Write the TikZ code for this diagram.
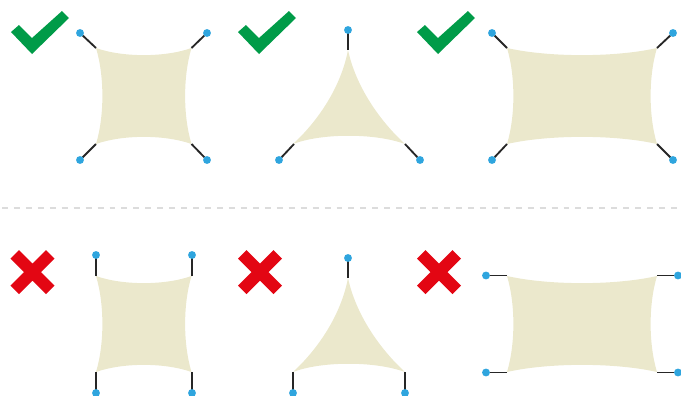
\documentclass[tikz,border=0pt]{standalone}
\usepackage{tikz}
\definecolor{sailcol}{HTML}{EBE8CC}
\definecolor{okcol}{HTML}{009B48}
\definecolor{badcol}{HTML}{E30613}
\definecolor{ringcol}{HTML}{2FA5DE}
\definecolor{rulecol}{HTML}{DCDCDC}
\tikzset{
  sail/.style={fill=sailcol, draw=none},
  stay/.style={draw=black!85, line width=1.05pt},
  ring/.style={circle, fill=ringcol, inner sep=0pt, minimum size=4.5pt},
}
\begin{document}
\begin{tikzpicture}[x=0.02cm, y=-0.02cm]
    \useasboundingbox (0,0) rectangle (681,396);
    % divider between good and bad rows
    \draw[rulecol, line width=0.7pt, dash pattern=on 3.4pt off 3.4pt] (2,208) -- (681,208);
    % check marks
    \foreach \dx in {0,227,406}
      \fill[okcol, shift={(\dx,0)}] (11,32) -- (19,25) -- (32,38) -- (62,11) -- (69,18) -- (32,54) -- cycle;
    % crosses
    \foreach \dx in {32.5,260,439}
      \fill[badcol, shift={(\dx,272)}] (-13.5,-22) -- (0,-8.5) -- (13.5,-22) -- (22,-13.5) -- (8.5,0)
        -- (22,13.5) -- (13.5,22) -- (0,8.5) -- (-13.5,22) -- (-22,13.5) -- (-8.5,0) -- (-22,-13.5) -- cycle;
    % square and wide sails, both rows
    \foreach \l/\r/\t/\b in {96/191.5/48/144, 96/191.5/276/372, 507/657/48/144, 507/657/276/372}
      \fill[sail] (\l,\t)
        .. controls ({\l+0.28*(\r-\l)},\t+9.5) and ({\r-0.28*(\r-\l)},\t+9.5) .. (\r,\t)
        .. controls (\r-8.5,\t+28) and (\r-8.5,\b-28) .. (\r,\b)
        .. controls ({\r-0.28*(\r-\l)},\b-9.5) and ({\l+0.28*(\r-\l)},\b-9.5) .. (\l,\b)
        .. controls (\l+8.5,\b-28) and (\l+8.5,\t+28) .. cycle;
    % triangular sails
    \foreach \t/\b in {50/144, 278/372}
      \fill[sail] (348,\t)
        .. controls (356,\t+37) and (380,\t+71) .. (405,\b)
        .. controls (375,\b-11) and (322,\b-11) .. (293,\b)
        .. controls (318,\t+71) and (341,\t+37) .. cycle;
    % corners of the sails
    \foreach \n/\x/\y in {a/96/48, b/191.5/48, c/96/144, d/191.5/144,
                          e/348/50, f/294/144, g/405/144,
                          h/507/48, i/657/48, j/507/144, k/657/144,
                          m/96/276, n/192/276, o/96/372, p/192/372,
                          q/348/278, r/293/372, s/405/372,
                          t/507/275.5, u/657/275.5, v/507/372.5, w/657/372.5}
      \coordinate (\n) at (\x,\y);
    % rings on their stays
    \foreach \n/\x/\y in {a/80/33, b/207/33, c/80/160, d/207/160,
                          e/348/30, f/279/160, g/420/160,
                          h/492/33, i/673/33, j/492/160, k/673/160,
                          m/96/255, n/192/255, o/96/393, p/192/393,
                          q/348/258, r/293/393, s/405/393,
                          t/486/275.5, u/678/275.5, v/486/372.5, w/678/372.5}{
      \draw[stay] (\n) -- (\x,\y);
      \node[ring] (ring\n) at (\x,\y) {};
    }
\end{tikzpicture}
\end{document}
